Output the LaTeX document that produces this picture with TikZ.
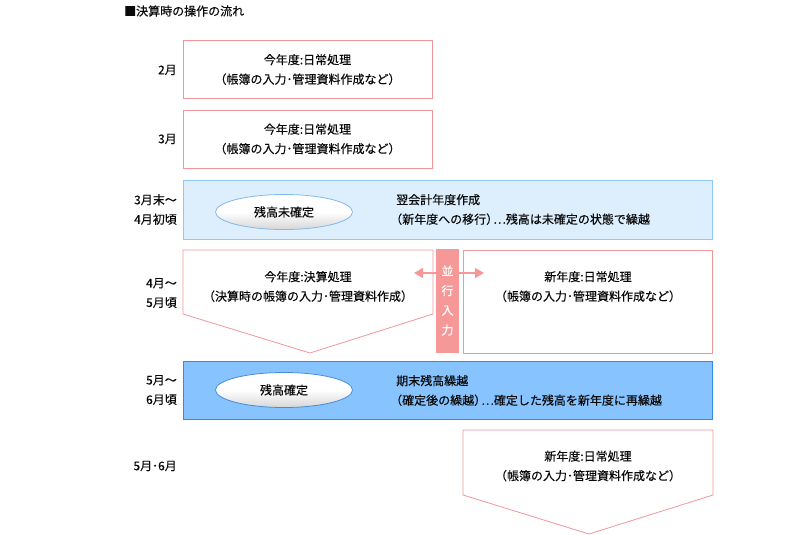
\documentclass[tikz,border=0pt]{standalone}
\usepackage{fontspec}
\setmainfont{Noto Sans CJK JP}[FakeBold=0.3]
\usetikzlibrary{arrows.meta,shapes.geometric}
\definecolor{pinkline}{RGB}{240,150,155}
\definecolor{pinkbar}{RGB}{246,152,152}
\definecolor{lightblue}{RGB}{221,239,253}
\definecolor{lightblueline}{RGB}{140,200,250}
\definecolor{midblue}{RGB}{135,195,255}
\definecolor{midblueline}{RGB}{50,140,230}
\definecolor{ellline}{RGB}{130,185,235}
\definecolor{ellline2}{RGB}{70,140,215}
\definecolor{txt}{RGB}{10,10,10}
\newcommand{\lp}{\hspace*{-6pt}（}
\newcommand{\rpdots}{）\hspace{-5pt}⋯}
\begin{document}
\begin{tikzpicture}[x=1pt,y=-1pt,
  every node/.style={font=\fontsize{12}{19.5}\selectfont, text=txt, inner sep=0pt},
  pinkbox/.style={draw=pinkline, line width=0.8pt, fill=white},
  pinkpent/.style={draw=pinkline, line width=0.8pt},
  bluebox1/.style={draw=lightblueline, line width=1pt, fill=lightblue},
  bluebox2/.style={draw=midblueline, line width=1pt, fill=midblue},
  oval/.style={ellipse, draw=#1, line width=0.8pt, minimum width=137pt, minimum height=35pt,
     top color=white, bottom color=black!16, middle color=white},
  monthlbl/.style={anchor=east, align=right},
  boxtxt/.style={align=center},
  lefttxt/.style={anchor=west, align=left},
  parr/.style={draw=pinkbar, fill=pinkbar, line width=1.6pt, -{Triangle[length=9pt,width=10pt]}}
]
\useasboundingbox (0,0) rectangle (800,535);

% title
\node[anchor=west] (title) at (124,11) {■決算時の操作の流れ};

% month labels
\node[monthlbl] (m1) at (177,70) {2月};
\node[monthlbl] (m2) at (177,139) {3月};
\node[monthlbl] (m3) at (177,209.5) {3月末～\\4月初頃};
\node[monthlbl] (m4) at (177,293) {4月～\\5月頃};
\node[monthlbl] (m5) at (177,390) {5月～\\6月頃};
\node[monthlbl] (m6) at (177,466) {5月･6月};

% Feb / Mar boxes
\node[pinkbox, minimum width=249pt, minimum height=58pt] (b1) at (307.5,69.5) {};
\node[boxtxt] (b1t) at (b1.center) {今年度:日常処理\\（帳簿の入力･管理資料作成など）};
\node[pinkbox, minimum width=249pt, minimum height=58pt] (b2) at (307.5,139) {};
\node[boxtxt] (b2t) at (b2.center) {今年度:日常処理\\（帳簿の入力･管理資料作成など）};

% blue box 1
\node[bluebox1, minimum width=529pt, minimum height=59pt] (bb1) at (447.5,209.5) {};
\node[oval=ellline] (e1) at (284,212) {残高未確定};
\node[lefttxt] (bb1t) at (396,209.5) {翌会計年度作成\\\lp 新年度への移行\rpdots 残高は未確定の状態で繰越};

% left pentagon
\coordinate (p1a) at (183,250);
\coordinate (p1b) at (433,250);
\coordinate (p1c) at (433,314);
\coordinate (p1d) at (310,353);
\coordinate (p1e) at (183,314);
\draw[pinkpent] (p1a) -- (p1b) -- (p1c) -- (p1d) -- (p1e) -- cycle;
\node[boxtxt] (p1t) at (308,286.5) {今年度:決算処理\\（決算時の帳簿の入力･管理資料作成）};

% right rect
\node[pinkbox, minimum width=249pt, minimum height=103pt] (r1) at (587.5,301.5) {};
\node[boxtxt] (r1t) at (588,286.5) {新年度:日常処理\\（帳簿の入力･管理資料作成など）};

% parallel bar
\node[fill=pinkbar, minimum width=23pt, minimum height=104pt] (bar) at (447.5,300.5) {};
\node[align=center, text=white, font=\fontsize{12}{19.7}\selectfont] (bart) at (bar.center) {並\\行\\入\\力};
\coordinate (la) at (414,273);
\coordinate (ra) at (484,273);
\draw[parr] (bar.west |- la) -- (la);
\draw[parr] (bar.east |- ra) -- (ra);

% blue box 2
\node[bluebox2, minimum width=529pt, minimum height=58pt] (bb2) at (447.5,390) {};
\node[oval=ellline2] (e2) at (284,390) {残高確定};
\node[lefttxt] (bb2t) at (396,390.5) {期末残高繰越\\\lp 確定後の繰越\rpdots 確定した残高を新年度に再繰越};

% last pentagon
\coordinate (p2a) at (463,430);
\coordinate (p2b) at (713,430);
\coordinate (p2c) at (713,495);
\coordinate (p2d) at (589,534);
\coordinate (p2e) at (463,495);
\draw[pinkpent] (p2a) -- (p2b) -- (p2c) -- (p2d) -- (p2e) -- cycle;
\node[boxtxt] (p2t) at (588,466) {新年度:日常処理\\（帳簿の入力･管理資料作成など）};
\end{tikzpicture}
\end{document}
